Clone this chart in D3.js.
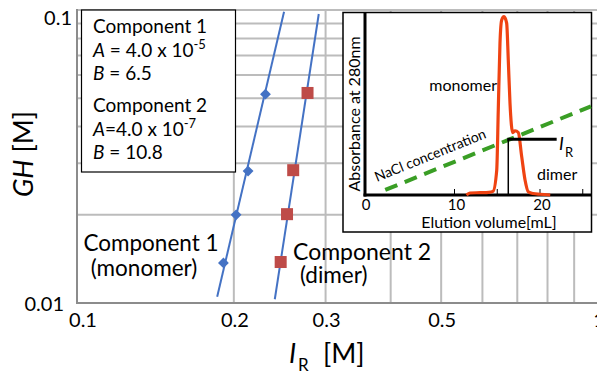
<!DOCTYPE html>
<html>
<head>
<meta charset="utf-8">
<script src="https://cdn.jsdelivr.net/npm/d3@7"></script>
<style>
  body { margin: 0; background: #fff; }
  svg { font-family: Lato, "Open Sans", sans-serif; }
</style>
</head>
<body>
<div id="chart"></div>
<script>
// values
const ir1 = [0.230, 0.213, 0.202, 0.191];       // component 1, I_R [M]
const gh1 = [0.0516, 0.0282, 0.0200, 0.0137];   // component 1, GH [M]
const ir2 = [0.277, 0.260, 0.253, 0.246];       // component 2
const gh2 = [0.0521, 0.0284, 0.0201, 0.0138];
// fitted lines, ends
const fit1Ir = [0.1858, 0.2497];
const fit1Gh = [0.0105, 0.0987];
const fit2Ir = [0.2397, 0.2911];
const fit2Gh = [0.0103, 0.0969];
const xTickLabels = [0.1, 0.2, 0.3, 0.5, 1];
const yTickLabels = [0.01, 0.1];

// inset chromatogram
const elutionMl = [11.4, 11.8, 13.0, 14.0, 14.5, 14.94, 15.12, 15.32, 15.52, 15.79, 16.1, 16.29, 16.49, 16.81, 17.08, 17.46, 17.86, 18.25, 18.63, 19.2, 20.0, 21.2];
const absorbance = [0.0, 0.011, 0.013, 0.015, 0.02, 0.138, 0.47, 0.84, 0.967, 0.985, 0.95, 0.746, 0.508, 0.345, 0.355, 0.345, 0.212, 0.083, 0.018, 0.008, 0.004, 0.0];
const naclMl = [1.9, 25.96];
const naclLevel = [0.028, 0.49];
const irMl = 16.29, irLevel = 0.308, irEndMl = 21.95;
const insetTicks = [10, 15, 20, 25];
const insetTickLabels = [0, 10, 20];

const width = 597, height = 374;
const svg = d3.select("#chart").append("svg")
  .attr("width", width).attr("height", height);

const x = d3.scaleLog().domain([0.1, 1]).range([77, 598]);
const y = d3.scaleLog().domain([0.01, 0.1]).range([303, 10]);

// grid
svg.append("g").selectAll("line.v")
  .data(x.ticks().filter(d => d > 0.1))
  .join("line")
    .attr("x1", d => x(d)).attr("x2", d => x(d))
    .attr("y1", y(0.1)).attr("y2", y(0.01))
    .attr("stroke", "#bcbcbc").attr("stroke-width", 2);
svg.append("g").selectAll("line.h")
  .data(y.ticks().filter(d => d > 0.01))
  .join("line")
    .attr("x1", x(0.1)).attr("x2", width)
    .attr("y1", d => y(d)).attr("y2", d => y(d))
    .attr("stroke", "#bcbcbc").attr("stroke-width", 2);
// axes
svg.append("line").attr("x1", x(0.1)).attr("x2", x(0.1))
  .attr("y1", y(0.1) - 1).attr("y2", y(0.01) + 1)
  .attr("stroke", "#8c8c8c").attr("stroke-width", 2);
svg.append("line").attr("x1", x(0.1) - 1).attr("x2", width)
  .attr("y1", y(0.01)).attr("y2", y(0.01))
  .attr("stroke", "#8c8c8c").attr("stroke-width", 2);

// tick labels
svg.append("g").selectAll("text")
  .data(xTickLabels)
  .join("text")
    .attr("x", d => x(d) + (d === 0.1 ? 6 : 1))
    .attr("y", 327)
    .attr("text-anchor", "middle")
    .attr("font-size", 20)
    .text(d => String(d));
svg.append("g").selectAll("text")
  .data(yTickLabels)
  .join("text")
    .attr("x", d => d === 0.1 ? 72 : 64)
    .attr("y", d => y(d) + (d === 0.1 ? 15 : 8))
    .attr("text-anchor", "end")
    .attr("font-size", 20)
    .text(d => String(d));

// axis titles
const xt = svg.append("g");
xt.append("text").attr("x", 289).attr("y", 363).attr("font-size", 27)
  .attr("font-style", "italic").text("I");
xt.append("text").attr("x", 298).attr("y", 371).attr("font-size", 17).text("R");
xt.append("text").attr("x", 323).attr("y", 363).attr("font-size", 27).text("[M]");

const yt = svg.append("text")
  .attr("transform", "translate(33,154) rotate(-90)")
  .attr("text-anchor", "middle").attr("font-size", 27);
yt.append("tspan").attr("font-style", "italic").text("GH");
yt.append("tspan").text(" [M]");

// fit lines
const line = d3.line().x(d => x(d[0])).y(d => y(d[1]));
[[fit1Ir, fit1Gh], [fit2Ir, fit2Gh]].forEach(([a, b]) => {
  svg.append("path")
    .attr("d", line(d3.zip(a, b)))
    .attr("fill", "none").attr("stroke", "#4472c4").attr("stroke-width", 2);
});

// markers
svg.append("g").selectAll("path")
  .data(d3.zip(ir1, gh1))
  .join("path")
    .attr("transform", d => `translate(${x(d[0])},${y(d[1])})`)
    .attr("d", d3.symbol(d3.symbolDiamond2, 75))
    .attr("fill", "#4472c4");
svg.append("g").selectAll("rect")
  .data(d3.zip(ir2, gh2))
  .join("rect")
    .attr("x", d => x(d[0]) - 6).attr("y", d => y(d[1]) - 6)
    .attr("width", 12).attr("height", 12)
    .attr("fill", "#be4b48");

// curve labels
svg.append("text").attr("x", 151).attr("y", 251).attr("text-anchor", "middle")
  .attr("font-size", 22.5).text("Component 1");
svg.append("text").attr("x", 144).attr("y", 276).attr("text-anchor", "middle")
  .attr("font-size", 22.5).text("(monomer)");
svg.append("text").attr("x", 293).attr("y", 260)
  .attr("font-size", 23).text("Component 2");
svg.append("text").attr("x", 300).attr("y", 283)
  .attr("font-size", 22.5).text("(dimer)");

// parameter box
svg.append("rect").attr("x", 81.5).attr("y", 10).attr("width", 154).attr("height", 162)
  .attr("fill", "#fff").attr("stroke", "#000").attr("stroke-width", 1.2);
const box = svg.append("g").attr("font-size", 19);
const boxLine = (yy, parts) => {
  const t = box.append("text").attr("x", 93).attr("y", yy);
  parts.forEach(p => {
    const s = t.append("tspan").text(p.t);
    if (p.i) s.attr("font-style", "italic");
    if (p.sup) s.attr("font-size", 13).attr("dy", -8);
  });
};
boxLine(33, [{t: "Component 1"}]);
boxLine(56.5, [{t: "A", i: true}, {t: " = 4.0 x 10"}, {t: "-5", sup: true}]);
boxLine(80, [{t: "B", i: true}, {t: " = 6.5"}]);
boxLine(111.5, [{t: "Component 2"}]);
boxLine(135.5, [{t: "A", i: true}, {t: "=4.0 x 10"}, {t: "-7", sup: true}]);
boxLine(158.5, [{t: "B", i: true}, {t: " = 10.8"}]);

// ---- inset ----
const inset = svg.append("g");
inset.append("rect").attr("x", 343).attr("y", 12.5).attr("width", 248.5).attr("height", 219.5)
  .attr("fill", "#fff").attr("stroke", "#000").attr("stroke-width", 1.5);

const ix = d3.scaleLinear().domain([0, 26]).range([369, 591.3]);
const iy = d3.scaleLinear().domain([0, 1]).range([195, 14]);

inset.append("line").attr("x1", 365).attr("x2", 365).attr("y1", 13).attr("y2", 196.5)
  .attr("stroke", "#000").attr("stroke-width", 3);
inset.append("line").attr("x1", 363.5).attr("x2", 591).attr("y1", iy(0)).attr("y2", iy(0))
  .attr("stroke", "#000").attr("stroke-width", 3);
inset.append("g").selectAll("line")
  .data(insetTicks)
  .join("line")
    .attr("x1", d => ix(d)).attr("x2", d => ix(d))
    .attr("y1", iy(0)).attr("y2", iy(0) - 6)
    .attr("stroke", "#000").attr("stroke-width", 1);
inset.append("g").selectAll("text")
  .data(insetTickLabels)
  .join("text")
    .attr("x", d => ix(d) - (d === 0 ? 3 : -2))
    .attr("y", 210)
    .attr("text-anchor", "middle").attr("font-size", 15)
    .text(d => d);
inset.append("text").attr("x", 489).attr("y", 228).attr("text-anchor", "middle")
  .attr("font-size", 16).text("Elution volume[mL]");
inset.append("text").attr("transform", "translate(360,114) rotate(-90)")
  .attr("text-anchor", "middle").attr("font-size", 16).text("Absorbance at 280nm");

// chromatogram
inset.append("path")
  .attr("d", d3.line().x(d => ix(d[0])).y(d => iy(d[1])).curve(d3.curveMonotoneX)(d3.zip(elutionMl, absorbance)))
  .attr("fill", "none").attr("stroke", "#ef4312").attr("stroke-width", 3.2)
  .attr("stroke-linejoin", "round");

// NaCl gradient
inset.append("path")
  .attr("d", d3.line().x(d => ix(d[0])).y(d => iy(d[1]))(d3.zip(naclMl, naclLevel)))
  .attr("stroke", "#3a9e25").attr("stroke-width", 4).attr("stroke-dasharray", "13,8");
inset.append("text").attr("transform", "translate(377,182) rotate(-22)")
  .attr("font-size", 14).text("NaCl concentration");

// I_R marker
inset.append("line").attr("x1", ix(irMl)).attr("x2", ix(irMl))
  .attr("y1", iy(0)).attr("y2", iy(irLevel))
  .attr("stroke", "#000").attr("stroke-width", 1.5);
inset.append("line").attr("x1", ix(irMl) - 1).attr("x2", ix(irEndMl))
  .attr("y1", iy(irLevel)).attr("y2", iy(irLevel))
  .attr("stroke", "#000").attr("stroke-width", 3);
inset.append("text").attr("x", 559).attr("y", 150).attr("font-size", 18)
  .attr("font-style", "italic").text("I");
inset.append("text").attr("x", 565).attr("y", 156.5).attr("font-size", 13).text("R");

inset.append("text").attr("x", 497).attr("y", 91).attr("text-anchor", "end")
  .attr("font-size", 16).text("monomer");
inset.append("text").attr("x", 537).attr("y", 180)
  .attr("font-size", 16).text("dimer");
</script>
</body>
</html>
